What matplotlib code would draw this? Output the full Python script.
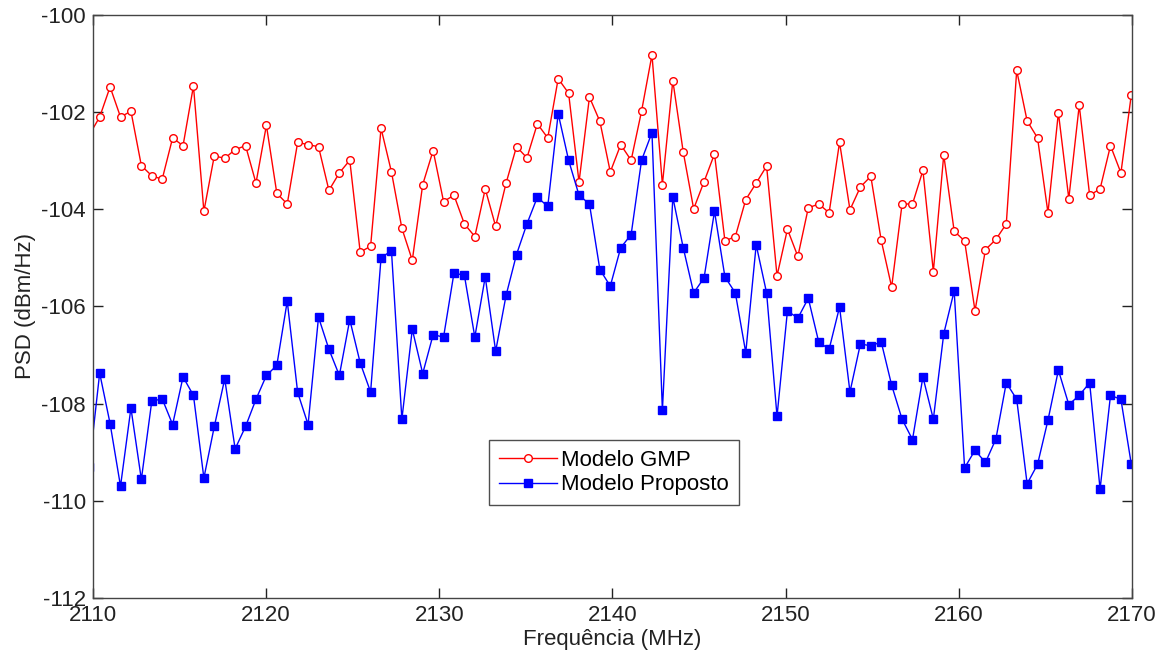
import numpy as np
import matplotlib
matplotlib.use("Agg")
import matplotlib.pyplot as plt

# Frequency grid (MHz): first sample lies just left of the axis (clipped)
freq = np.linspace(2109.785, 2169.96, 101)

gmp = [-102.47, -102.10, -101.48, -102.10, -101.98, -103.10, -103.31, -103.38, -102.53, -102.69,
       -101.46, -104.04, -102.90, -102.95, -102.77, -102.69, -103.46, -102.27, -103.67, -103.89,
       -102.62, -102.67, -102.71, -103.61, -103.25, -102.99, -104.88, -104.76, -102.33, -103.23,
       -104.39, -105.05, -103.49, -102.79, -103.84, -103.71, -104.30, -104.56, -103.58, -104.35,
       -103.46, -102.71, -102.94, -102.24, -102.53, -101.31, -101.61, -103.44, -101.69, -102.19,
       -103.23, -102.67, -102.99, -101.98, -100.82, -103.49, -101.35, -102.82, -103.99, -103.43,
       -102.86, -104.65, -104.56, -103.80, -103.46, -103.11, -105.37, -104.41, -104.97, -103.97,
       -103.89, -104.07, -102.62, -104.01, -103.54, -103.32, -104.64, -105.60, -103.89, -103.89,
       -103.20, -105.28, -102.88, -104.45, -104.65, -106.09, -104.83, -104.62, -104.30, -101.14,
       -102.18, -102.53, -104.07, -102.01, -103.78, -101.86, -103.71, -103.58, -102.69, -103.25,
       -101.64]

proposto = [-109.30, -107.37, -108.41, -109.70, -108.09, -109.56, -107.95, -107.90, -108.43, -107.45,
            -107.83, -109.53, -108.47, -107.49, -108.93, -108.47, -107.91, -107.42, -107.21, -105.89,
            -107.77, -108.43, -106.22, -106.88, -107.42, -106.27, -107.16, -107.76, -105.00, -104.85,
            -108.32, -106.47, -107.38, -106.58, -106.63, -105.31, -105.36, -106.63, -105.39, -106.92,
            -105.77, -104.93, -104.30, -103.75, -103.94, -102.03, -102.99, -103.71, -103.89, -105.24,
            -105.58, -104.79, -104.52, -102.99, -102.42, -108.14, -103.75, -104.79, -105.72, -105.41,
            -104.04, -105.39, -105.72, -106.95, -104.73, -105.72, -108.26, -106.09, -106.24, -105.83,
            -106.73, -106.88, -106.01, -107.76, -106.77, -106.81, -106.73, -107.62, -108.32, -108.74,
            -107.45, -108.32, -106.56, -105.68, -109.32, -108.96, -109.21, -108.73, -107.57, -107.91,
            -109.65, -109.25, -108.34, -107.31, -108.02, -107.83, -107.57, -109.76, -107.83, -107.91,
            -109.25]

xticks = [2110, 2120, 2130, 2140, 2150, 2160, 2170]
yticks = [-112, -110, -108, -106, -104, -102, -100]

plt.rcParams['font.family'] = ['Liberation Sans', 'DejaVu Sans']
plt.rcParams['axes.unicode_minus'] = False

fig = plt.figure(figsize=(11.68, 6.58), dpi=100)
ax = fig.add_axes([0.0796, 0.0912, 0.8896, 0.8860])

ax.plot(freq, gmp, '-o', color='#ff0000', lw=1.0, ms=5.5, mfc='white', mec='#ff0000', mew=1.0,
        label='Modelo GMP')
ax.plot(freq, proposto, '-s', color='#0000ff', lw=1.0, ms=5.5, mfc='#0000ff', mec='#0000ff',
        label='Modelo Proposto')

ax.set_xlim(2110, 2170)
ax.set_ylim(-112, -100)
ax.set_xticks(xticks)
ax.set_yticks(yticks)
ax.tick_params(direction='in', top=True, right=True, length=7.5, width=1, labelsize=16,
               colors='#222222', pad=5)
for s in ax.spines.values():
    s.set_linewidth(1.0)
    s.set_color('#444444')

ax.set_xlabel('Frequência (MHz)', fontsize=16, color='#222222', labelpad=2)
ax.set_ylabel('PSD (dBm/Hz)', fontsize=16, color='#222222', labelpad=4)

leg = ax.legend(loc='upper left', bbox_to_anchor=(0.381, 0.271), fontsize=16, fancybox=False,
                frameon=True, edgecolor='#222222', borderpad=0.45, handlelength=2.6,
                handletextpad=0.2, labelspacing=0.15, borderaxespad=0)
leg.get_frame().set_linewidth(1.0)

fig.savefig('out.png', dpi=100)
